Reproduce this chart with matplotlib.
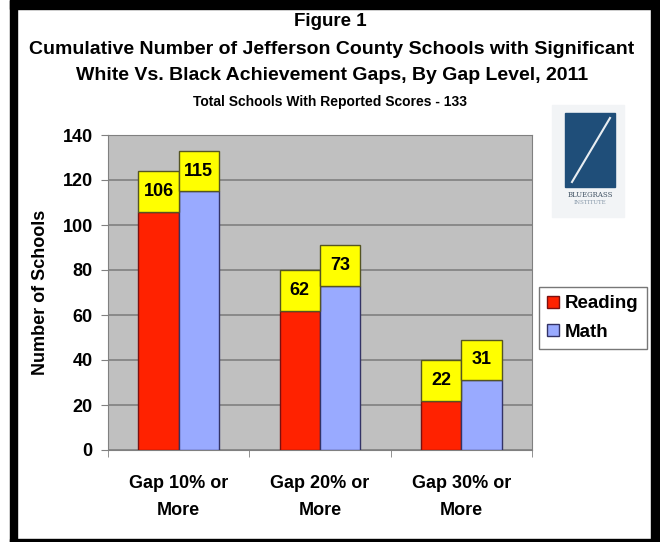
import matplotlib.pyplot as plt
import matplotlib.patches as mpatches
import numpy as np

# data
categories = ["Gap 10% or\nMore", "Gap 20% or\nMore", "Gap 30% or\nMore"]
reading = [106, 62, 22]
math_scores = [115, 73, 31]
series_names = ["Reading", "Math"]
y_ticks = [0, 20, 40, 60, 80, 100, 120, 140]

W, H = 660, 542
plt.rcParams['font.family'] = ['Liberation Sans', 'DejaVu Sans']
plt.rcParams['font.weight'] = 'bold'

fig = plt.figure(figsize=(W / 100, H / 100), dpi=100)
fig.patch.set_facecolor('white')


def px(x0, y0, x1, y1):
    """pixel box (top-left origin) -> figure fraction rect"""
    return [x0 / W, 1 - y1 / H, (x1 - x0) / W, (y1 - y0) / H]


# black frame around the picture
frame = fig.add_axes([0, 0, 1, 1])
frame.set_xlim(0, W)
frame.set_ylim(H, 0)
frame.axis('off')
frame.add_patch(mpatches.Rectangle((10, 0), W - 10, 9, color='black'))
frame.add_patch(mpatches.Rectangle((10, 0), 7, H, color='black'))
frame.add_patch(mpatches.Rectangle((651, 0), 9, H, color='black'))
frame.add_patch(mpatches.Rectangle((10, 539), W - 10, 3, color='black'))

# titles
fig.text(330 / W, 1 - 21 / H, "Figure 1", ha='center', va='center', fontsize=13.5, weight='bold')
fig.text(332 / W, 1 - 49 / H, "Cumulative Number of Jefferson County Schools with Significant",
         ha='center', va='center', fontsize=14, weight='bold')
fig.text(332 / W, 1 - 76 / H, "White Vs. Black Achievement Gaps, By Gap Level, 2011",
         ha='center', va='center', fontsize=14, weight='bold')
fig.text(330 / W, 1 - 102 / H, "Total Schools With Reported Scores - 133",
         ha='center', va='center', fontsize=10, weight='bold')

# main chart
ax = fig.add_axes(px(108, 135, 532, 450))
ax.set_facecolor('#C0C0C0')
x = np.arange(len(categories))
bw = 0.285
red_bars = ax.bar(x - bw / 2, reading, bw, color='#FF2200', edgecolor='#7A1010', linewidth=1, zorder=3, label=series_names[0])
blue_bars = ax.bar(x + bw / 2, math_scores, bw, color='#99AAFF', edgecolor='#333366', linewidth=1, zorder=3, label=series_names[1])

# yellow value boxes sitting on top of each bar
box_h = 18
for bars, vals in ((red_bars, reading), (blue_bars, math_scores)):
    for b, v in zip(bars, vals):
        ax.add_patch(mpatches.Rectangle((b.get_x(), v), b.get_width(), box_h, facecolor='#FFFF00',
                                        edgecolor='#555522', linewidth=1, zorder=4))
        ax.text(b.get_x() + b.get_width() / 2, v + box_h / 2, str(v), ha='center', va='center',
                fontsize=13, weight='bold', zorder=5)

ax.set_xlim(-0.5, len(categories) - 0.5)
ax.set_ylim(0, 140)
ax.set_yticks(y_ticks)
ax.set_yticklabels([str(t) for t in y_ticks], fontsize=13, weight='bold')
ax.yaxis.grid(True, color='#808080', linewidth=1.2, zorder=0)
ax.set_axisbelow(True)
ax.tick_params(axis='y', length=5, color='#808080', pad=6)

ax.set_xticks(x)
ax.set_xticklabels(categories, fontsize=13, weight='bold', linespacing=1.75)
ax.tick_params(axis='x', length=0, pad=18)
ax.set_xticks(np.arange(len(categories) + 1) - 0.5, minor=True)
ax.tick_params(axis='x', which='minor', length=5, color='#808080')

for s in ax.spines.values():
    s.set_color('#808080')
ax.set_ylabel("Number of Schools", fontsize=13, weight='bold', labelpad=10)

# legend
leg = ax.legend(loc='center left', bbox_to_anchor=(539 / W, 1 - 318 / H), bbox_transform=fig.transFigure,
                fontsize=13.5, frameon=True, fancybox=False, edgecolor='#555555',
                handlelength=0.6, handleheight=0.6, handletextpad=0.35, labelspacing=0.6,
                borderpad=0.45, borderaxespad=0)
leg.get_frame().set_linewidth(1)

# Bluegrass Institute logo (approximation)
frame.add_patch(mpatches.Rectangle((552, 105), 72, 112, color='#F2F4F6', zorder=1))
frame.add_patch(mpatches.Rectangle((565, 113), 50, 74, color='#1F4E79', zorder=2))
frame.plot([572, 610], [182, 118], color='white', linewidth=1.5, alpha=0.9, zorder=3)
frame.text(590, 195, "BLUEGRASS", ha='center', va='center', fontsize=5, color='#445566',
           family='DejaVu Serif', weight='normal', zorder=3)
frame.text(590, 202, "INSTITUTE", ha='center', va='center', fontsize=4, color='#8899AA',
           family='DejaVu Serif', weight='normal', zorder=3)

plt.savefig("out.png", dpi=100)
